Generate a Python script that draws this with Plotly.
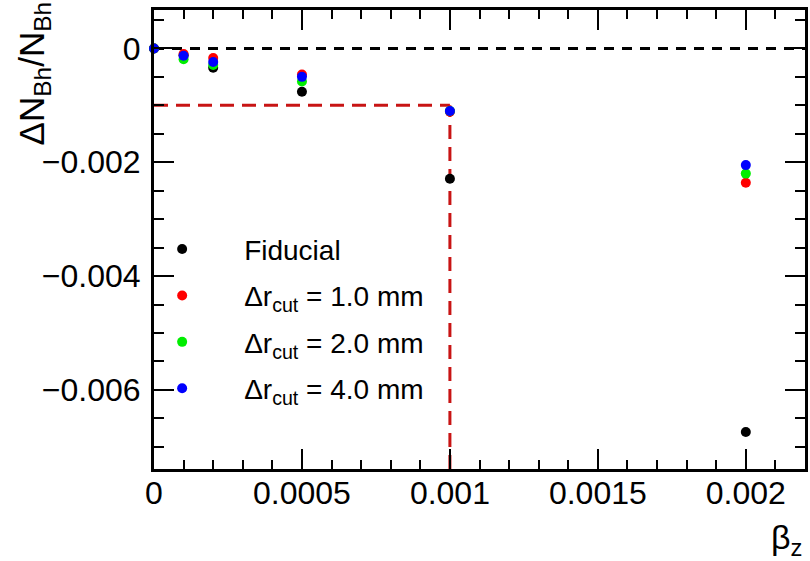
import plotly.graph_objects as go

beta_z = [0.0, 0.0001, 0.0002, 0.0005, 0.001, 0.002]
fiducial = [0.0, -0.00012, -0.00034, -0.00076, -0.00229, -0.00674]
dr_1mm = [0.0, -0.00010, -0.00017, -0.00046, -0.00111, -0.00236]
dr_2mm = [0.0, -0.00019, -0.00029, -0.00058, -0.00110, -0.00220]
dr_4mm = [0.0, -0.00013, -0.00024, -0.00050, -0.00110, -0.00205]

series_names = ["Fiducial", "Δr<sub>cut</sub> = 1.0 mm", "Δr<sub>cut</sub> = 2.0 mm", "Δr<sub>cut</sub> = 4.0 mm"]
series_vals = [fiducial, dr_1mm, dr_2mm, dr_4mm]
series_cols = ["#000000", "#ff0000", "#00ee00", "#0000ff"]

limit_beta = 0.001
limit_dn = -0.001

x_range = [0, 0.0022]
y_range = [-0.00739, 0.000675]

FONT = "Liberation Sans, Arial, sans-serif"

fig = go.Figure()
for i, (name, vals, col) in enumerate(zip(series_names, series_vals, series_cols)):
    fig.add_trace(go.Scatter(x=beta_z, y=vals, mode="markers", name=name, legendgroup=f"g{i}",
                             marker=dict(color=col, size=10, line=dict(width=0)),
                             cliponaxis=False))

# reference lines
fig.add_shape(type="line", xref="paper", yref="y", x0=0, x1=1, y0=0, y1=0,
              line=dict(color="black", width=3, dash="10px,8px"), layer="below")
fig.add_shape(type="line", xref="x", yref="y", x0=0, x1=limit_beta, y0=limit_dn, y1=limit_dn,
              line=dict(color="#c81414", width=3, dash="14px,8px"), layer="below")
fig.add_shape(type="line", xref="x", yref="y", x0=limit_beta, x1=limit_beta, y0=y_range[0], y1=limit_dn,
              line=dict(color="#c81414", width=3, dash="14px,8px"), layer="below")

axis_common = dict(showline=True, linecolor="black", linewidth=3, mirror="allticks",
                   ticks="inside", tickcolor="black", tickwidth=2, showgrid=False,
                   zeroline=False, tickfont=dict(family=FONT, size=32, color="black"))

fig.update_xaxes(range=x_range, tick0=0, dtick=0.0005, ticklen=20, ticklabelstandoff=-6,
                 minor=dict(dtick=0.0001, ticklen=9, tickwidth=2, ticks="inside", tickcolor="black", showgrid=False),
                 **axis_common)
fig.update_yaxes(range=y_range, tick0=0, dtick=0.002, ticklen=20, ticklabelstandoff=4,
                 minor=dict(dtick=0.0005, ticklen=10, tickwidth=2, ticks="inside", tickcolor="black", showgrid=False),
                 **axis_common)

fig.add_annotation(text="ΔN<sub>Bh</sub>/N<sub>Bh</sub>", xref="paper", yref="paper",
                   x=-0.185, y=1.022, xanchor="center", yanchor="top", textangle=-90,
                   showarrow=False, font=dict(family=FONT, size=35, color="black"))
fig.add_annotation(text="β<sub>z</sub>", xref="paper", yref="paper",
                   x=0.998, y=-0.205, xanchor="right", yanchor="bottom",
                   showarrow=False, font=dict(family=FONT, size=34, color="black"))

fig.update_layout(width=810, height=561, plot_bgcolor="white", paper_bgcolor="white",
                  margin=dict(l=154, r=2, t=10, b=92),
                  showlegend=True,
                  legend=dict(x=-0.052, y=0.533, xanchor="left", yanchor="top", tracegroupgap=7,
                              bgcolor="rgba(0,0,0,0)", font=dict(family=FONT, size=28, color="black"),
                              itemwidth=114))
fig.write_html("out.html", config={"displayModeBar": False},
               post_script="document.body.style.margin='0';")
